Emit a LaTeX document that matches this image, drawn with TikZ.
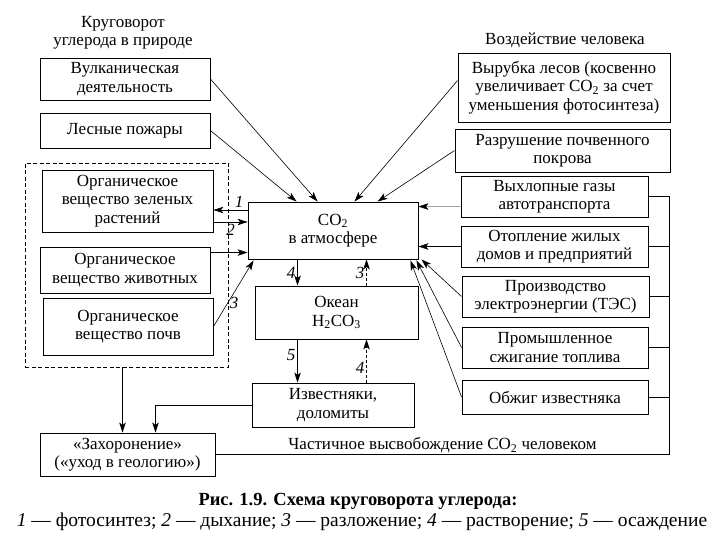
\documentclass[tikz,border=0pt]{standalone}
\usepackage{fontspec}
\setmainfont{Liberation Serif}
\usetikzlibrary{positioning,arrows.meta,calc}
\newcommand{\boxfont}{\fontsize{17}{18.5}\selectfont}
\newcommand{\COtwo}{CO\textsubscript{2}}

\begin{document}
\begin{tikzpicture}[
      x=1pt,y=-1pt,
      >={Stealth[length=10pt,width=6.5pt,inset=2.5pt]},
      box/.style={draw=black,line width=0.9pt,align=center,inner sep=1pt,
        font=\boxfont},
      natframe/.style={draw=black,line width=0.9pt,inner sep=0pt,
        dash pattern=on 4pt off 2.5pt},
      arr/.style={draw=black,line width=0.6pt,->},
      darr/.style={arr,dash pattern=on 3pt off 2pt},
      wire/.style={draw=black,line width=0.6pt},
      num/.style={font=\boxfont\itshape,inner sep=2pt}
    ]
    \useasboundingbox (0,0) rectangle (720,540);
    % headings of the two columns
    \node[font=\boxfont,align=center] (natT) at (123,33)
      {Круговорот\\углерода в природе};
    \node[font=\boxfont] (humT) at (565,40) {Воздействие человека};
    % natural side
    \node[box,minimum width=170pt,minimum height=42pt] (volc) at (125,79)
      {Вулканическая\\деятельность};
    \node[box,minimum width=170pt,minimum height=35pt] (fire) at (125,130.5)
      {Лесные пожары};
    \node[natframe,minimum width=203pt,minimum height=204pt] (nat) at (126.5,265) {};
    \node[box,minimum width=171pt,minimum height=62pt] (plants) at (127.5,201)
      {Органическое\\вещество зеленых\\растений};
    \node[box,minimum width=170pt,minimum height=46pt] (animals) at (125,270)
      {Органическое\\вещество животных};
    \node[box,minimum width=170pt,minimum height=57pt] (soil) at (128,326.5)
      {Органическое\\вещество почв};
    % atmosphere, ocean, rocks
    \node[box,minimum width=170pt,minimum height=57pt] (co2) at (333,230.5)
      {\COtwo\\в атмосфере};
    \node[box,minimum width=163pt,minimum height=53pt] (ocean) at (336.5,312.5)
      {Океан\\H\textsubscript{2}CO\textsubscript{3}};
    \node[box,minimum width=162pt,minimum height=44pt] (lime) at (333,405)
      {Известняки,\\доломиты};
    \node[box,minimum width=175pt,minimum height=43pt] (burial) at (127.5,454.5)
      {«Захоронение»\\(«уход в геологию»)};
    % human side
    \node[box,minimum width=212pt,minimum height=69pt] (cut) at (564,87.5)
      {Вырубка лесов (косвенно\\увеличивает \COtwo{} за счет\\уменьшения фотосинтеза)};
    \node[box,minimum width=215pt,minimum height=43pt] (soilloss) at (562.5,150.5)
      {Разрушение почвенного\\покрова};
    \node[box,minimum width=187pt,minimum height=41pt] (exhaust) at (554.5,196.5)
      {Выхлопные газы\\автотранспорта};
    \node[box,minimum width=187pt,minimum height=41pt] (heat) at (554.5,246.5)
      {Отопление жилых\\домов и предприятий};
    \node[box,minimum width=187pt,minimum height=41pt] (power) at (555.5,296.5)
      {Производство\\электроэнергии (ТЭС)};
    \node[box,minimum width=186pt,minimum height=41pt] (fuel) at (555,347.5)
      {Промышленное\\сжигание топлива};
    \node[box,minimum width=186pt,minimum height=34pt] (kiln) at (555,397)
      {Обжиг известняка};
    % caption
    \node[font=\fontsize{18.5}{20}\selectfont\bfseries] (capA) at (358,501)
      {Рис. 1.9. Схема круговорота углерода:};
    \node[font=\fontsize{19.5}{21}\selectfont] (capB) at (362,522)
      {\textit{1} — фотосинтез; \textit{2} — дыхание; \textit{3} — разложение;
       \textit{4} — растворение; \textit{5} — осаждение};
    % sources into the atmosphere
    \draw[arr] (volc.east) -- ($(co2.north west)+(70,0)$);
    \draw[arr] (fire.east) -- ($(co2.north west)+(49,0)$);
    \draw[arr] ($(cut.west)+(0,-7)$) -- ($(co2.north west)+(107,0)$);
    \draw[arr] (soilloss.west) -- ($(co2.north west)+(130,0)$);
    \draw[arr,line width=0.4pt] ($(exhaust.west)+(0,10)$) -- ($(co2.north east)+(0,5)$);
    \draw[arr] (heat.west) -- (heat.west -| co2.east);
    \draw[arr] (power.west) -- ($(co2.south east)+(3,0)$);
    \draw[arr] (fuel.west) -- ($(co2.south east)+(-2,1)$);
    \draw[arr] (kiln.west) -- ($(co2.south east)+(-8,1)$);
    % photosynthesis, respiration, decay
    \coordinate (p1) at ($(plants.east)+(0,9)$);
    \coordinate (p2) at ($(plants.east)+(0,21)$);
    \coordinate (p3) at ($(animals.north east)+(0,6)$);
    \draw[arr] (p1 -| co2.west) -- (p1) node[num,pos=0.25,above] {1};
    \draw[arr] (p2) -- (p2 -| co2.west) node[num,midway,below] {2};
    \draw[arr] (p3) -- (p3 -| co2.west);
    \draw[arr] (soil.east) -- ($(co2.south west)+(6,1)$) node[num,pos=0.35,right] {3};
    % exchange with the ocean and the rocks
    \coordinate (oD) at ($(co2.south west)+(50,0)$);
    \coordinate (oU) at ($(co2.south west)+(119,0)$);
    \draw[arr] (oD) -- (oD |- ocean.north) node[num,midway,left] {4};
    \draw[darr] (oU |- ocean.north) -- (oU) node[num,midway,left] {3};
    \draw[arr] (oD |- ocean.south) -- (oD |- lime.north) node[num,pos=0.35,left] {5};
    \draw[darr] (oU |- lime.north) -- (oU |- ocean.south) node[num,pos=0.35,left] {4};
    % burial
    \coordinate (b1) at ($(nat.south)+(-4,0)$);
    \draw[arr] (b1) -- (b1 |- burial.north);
    \draw[arr] (lime.west) -| ($(burial.north)+(28,0)$);
    % release by man
    \coordinate (bus) at ($(exhaust.east)+(21,0)$);
    \draw[wire] (exhaust.east) -- (bus);
    \foreach \n in {heat,power,fuel,kiln}
      \draw[wire] (\n.east) -- (\n.east -| bus);
    \draw[wire] (burial.east) -- node[font=\boxfont,above,inner sep=1pt]
      {Частичное высвобождение \COtwo{} человеком} (burial.east -| bus) -- (bus);
  \end{tikzpicture}
\end{document}
